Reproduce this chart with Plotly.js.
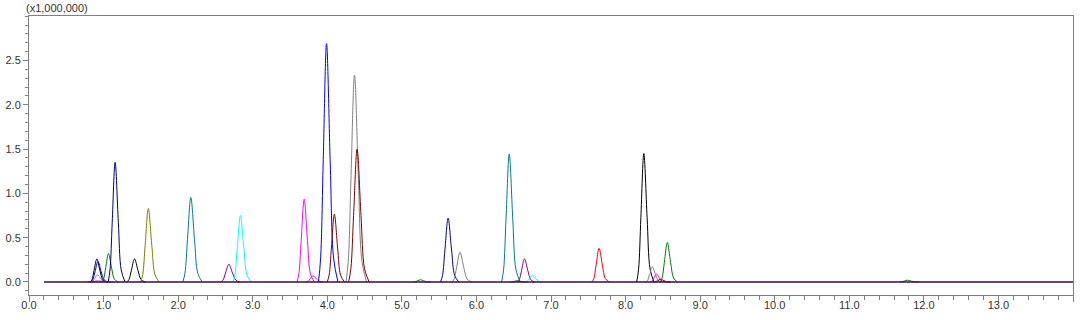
<!DOCTYPE html>
<html>
<head>
<meta charset="utf-8">
<script src="https://cdn.plot.ly/plotly-3.0.1.min.js"></script>
<style>html,body{margin:0;padding:0;background:#fff;}#chart{width:1080px;height:320px;}</style>
</head>
<body>
<div id="chart"></div>
<script>
// Retention time of each peak apex (min)
const peakTimes = [0.91, 0.925, 0.92, 0.93, 1.066, 1.155, 1.415, 1.60, 2.17, 2.68, 2.835,
  3.69, 3.81, 3.99, 4.095, 4.365, 4.40, 5.25, 5.62, 5.78, 6.44, 6.55, 6.645, 6.75,
  7.645, 8.245, 8.36, 8.415, 8.47, 8.56, 11.78];
// Apex intensity (x1,000,000)
const peakHeights = [0.26, 0.23, 0.08, 0.012, 0.32, 1.35, 0.26, 0.83, 0.955, 0.20, 0.75,
  0.935, 0.07, 2.69, 0.765, 2.335, 1.50, 0.025, 0.72, 0.335, 1.445, 0.015, 0.26, 0.075,
  0.38, 1.45, 0.17, 0.09, 0.03, 0.445, 0.02];
// Full width at half height (min)
const peakWidths = [0.075, 0.08, 0.075, 0.12, 0.075, 0.078, 0.085, 0.085, 0.09, 0.09, 0.085,
  0.08, 0.08, 0.09, 0.08, 0.095, 0.095, 0.08, 0.085, 0.09, 0.085, 0.08, 0.08, 0.08,
  0.08, 0.08, 0.075, 0.07, 0.08, 0.08, 0.09];
// Peak outline: offsets in half-height widths, fraction of apex
const profileOffsets = [-1.2, -0.88, -0.5, 0, 0.55, 1.05, 1.7];
const profileLevels = [0, 0.1, 0.5, 1, 0.5, 0.1, 0];
// Baseline of the chromatogram
const baselineTimes = [0.2, 14.0];
const baselineValues = [0, 0];
// Axis tick labels
const xTickVals = [0,1,2,3,4,5,6,7,8,9,10,11,12,13,14];
const xTickText = ["0.0","1.0","2.0","3.0","4.0","5.0","6.0","7.0","8.0","9.0","10.0","11.0","12.0","13.0","min"];
const yTickVals = [0, 0.5, 1.0, 1.5, 2.0, 2.5];
const yTickText = ["0.0","0.5","1.0","1.5","2.0","2.5"];

// Styles
const peakColors = ["#000000","#0000FF","#909090","#FF00FF","#008000","#000080","#000000","#808000",
  "#008080","#800080","#00FFFF","#FF00FF","#FF00FF","#0000FF","#800000","#808080","#800000",
  "#008000","#000080","#808080","#008080","#008000","#800080","#00FFFF","#FF0000","#000000",
  "#808080","#FF00FF","#800000","#008000","#008000"];

const traces = peakTimes.map((t, i) => ({
  type: 'scatter', mode: 'lines',
  x: profileOffsets.map(o => t + o * peakWidths[i]),
  y: profileLevels.map(l => l * peakHeights[i]),
  line: {color: peakColors[i], width: 1, shape: 'spline', smoothing: 1},
  hoverinfo: 'skip'
}));
traces.push({
  type: 'scatter', mode: 'lines', x: baselineTimes, y: baselineValues,
  line: {color: '#3c0a46', width: 1.6}, hoverinfo: 'skip'
});

const axisFont = {family: 'Liberation Sans, Arial, sans-serif', size: 11, color: '#333333'};
const layout = {
  width: 1080, height: 320,
  margin: {l: 29, r: 7, t: 16, b: 25, pad: 0},
  paper_bgcolor: '#ffffff', plot_bgcolor: '#ffffff',
  showlegend: false, hovermode: false,
  font: axisFont,
  xaxis: {
    range: [0, 14], showgrid: false, zeroline: false,
    showline: true, linecolor: '#808080', linewidth: 1, mirror: true,
    ticks: 'outside', ticklen: 6, tickcolor: '#808080', tickwidth: 1,
    ticklabelstandoff: -6,
    tickmode: 'array', tickvals: xTickVals, ticktext: xTickText,
    tickfont: axisFont,
    minor: {dtick: 0.2, tick0: 0, ticks: 'outside', ticklen: 4, tickcolor: '#808080', showgrid: false}
  },
  yaxis: {
    range: [-0.147, 3.002], showgrid: false, zeroline: false,
    showline: true, linecolor: '#808080', linewidth: 1, mirror: true,
    ticks: 'outside', ticklen: 5, tickcolor: '#808080', tickwidth: 1,
    tickmode: 'array', tickvals: yTickVals, ticktext: yTickText,
    tickfont: axisFont,
    minor: {dtick: 0.1, tick0: 0, ticks: 'outside', ticklen: 3, tickcolor: '#808080', showgrid: false}
  },
  annotations: [{
    text: '(x1,000,000)', xref: 'paper', yref: 'paper', x: -0.005, y: 1,
    xanchor: 'left', yanchor: 'bottom', showarrow: false, font: axisFont
  }]
};
Plotly.newPlot('chart', traces, layout, {staticPlot: true});
</script>
</body>
</html>
